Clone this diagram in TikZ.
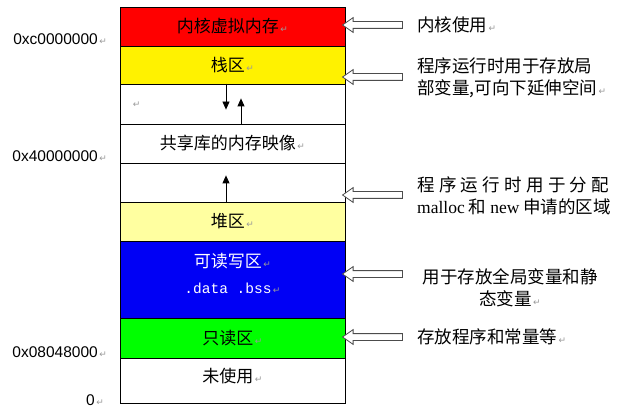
\documentclass[tikz,border=0pt]{standalone}
\usepackage{fontspec}
\setmainfont{Noto Sans CJK SC}
\newfontfamily\hexfont{Liberation Sans}
\newfontfamily\serifpart{Liberation Serif}
\newfontfamily\codefont{Liberation Mono}
\newfontfamily\markfont{DejaVu Sans}
\usetikzlibrary{arrows.meta,shapes.arrows}

\definecolor{heapyellow}{RGB}{255,255,160}
\definecolor{rwblue}{RGB}{0,0,245}
\newcommand{\retmark}{{\markfont\fontsize{9}{9}\selectfont\color{black!40}\,↵}}

\begin{document}
\begin{tikzpicture}[x=1pt,y=-1pt,>=Stealth,
  seg/.style={draw,line width=.8pt,minimum width=225pt,inner sep=0pt,font=\fontsize{17}{26}\selectfont},
  addr/.style={anchor=east,inner sep=0pt,font=\hexfont\fontsize{15.5}{18}\selectfont},
  note/.style={anchor=west,align=left,inner sep=0pt,font=\fontsize{17.5}{22}\selectfont},
  hollow/.style={single arrow,draw=black!70,fill=white,line width=.8pt,shape border rotate=180,
    minimum height=60pt,inner xsep=0pt,inner ysep=3pt,single arrow head extend=4pt,
    single arrow head indent=0pt,single arrow tip angle=70},
  growarrow/.style={-{Triangle[length=8pt,width=7pt]},line width=.8pt}]
  \useasboundingbox (0,0) rectangle (619,409);

  % memory segments, top to bottom
  \node[seg,fill=red,minimum height=39pt] (kernel) at (232.5,26.5) {内核虚拟内存\retmark};
  \node[seg,fill=yellow,minimum height=38pt] (stack) at (232.5,65) {栈区\retmark};
  \node[seg,fill=white,minimum height=40pt] (gap1) at (232.5,104) {};
  \node[seg,fill=white,minimum height=39pt] (shlib) at (232.5,143.5) {共享库的内存映像\retmark};
  \node[seg,fill=white,minimum height=39pt] (gap2) at (232.5,182.5) {};
  \node[seg,fill=heapyellow,minimum height=39pt] (heap) at (232.5,221.5) {堆区\retmark};
  \node[seg,fill=rwblue,text=white,minimum height=77pt,align=center] (rw) at (232.5,279.5)
    {\raisebox{12pt}{可读写区\retmark}\\\raisebox{12pt}{{\codefont\fontsize{14.5}{26}\selectfont .data .bss}\retmark}};
  \node[seg,fill=green,minimum height=40pt] (ro) at (232.5,338) {只读区\retmark};
  \node[seg,fill=white,minimum height=45pt] (unused) at (232.5,380.5) {\raisebox{10pt}{未使用\retmark}};
  \node (gapmark) at (136,105) {\retmark};

  % growth directions
  \draw[growarrow] ([xshift=-6.5pt]gap1.north) -- ++(0,26);
  \draw[growarrow] ([xshift=8.5pt]gap1.south) -- ++(0,-26);
  \draw[growarrow] ([xshift=-6.5pt]gap2.south) -- ++(0,-27);

  % addresses
  \node[addr] (akernel) at (107,39) {0xc0000000\retmark};
  \node[addr] (ashlib) at (107,156) {0x40000000\retmark};
  \node[addr] (atext) at (107,352) {0x08048000\retmark};
  \node[addr] (azero) at (104,400) {0\retmark};

  % pointers and notes
  \node[hollow] (pkernel) at (375,25) {};
  \node[hollow] (pstack) at (375,77) {};
  \node[hollow] (pheap) at (375,195) {};
  \node[hollow] (prw) at (375,274) {};
  \node[hollow] (pro) at (375,337) {};

  \node[note] (nkernel) at (417,25) {内核使用\retmark};
  \node[note] (nstack) at (417,77.5) {程序运行时用于存放局\\部变量,可向下延伸空间\retmark};
  \node[note] (nheap) at (417,196)
    {\makebox[192pt][s]{程\hfill 序\hfill 运\hfill 行\hfill 时\hfill 用\hfill 于\hfill 分\hfill 配}\\
     {\serifpart malloc}\hspace{4pt}和\hspace{4pt}{\serifpart new}\hspace{4pt}申请的区域};
  \node[note,anchor=center,align=center] (nrw) at (510,287.5) {用于存放全局变量和静\\态变量\retmark};
  \node[note] (nro) at (417,337) {存放程序和常量等\retmark};
\end{tikzpicture}
\end{document}
